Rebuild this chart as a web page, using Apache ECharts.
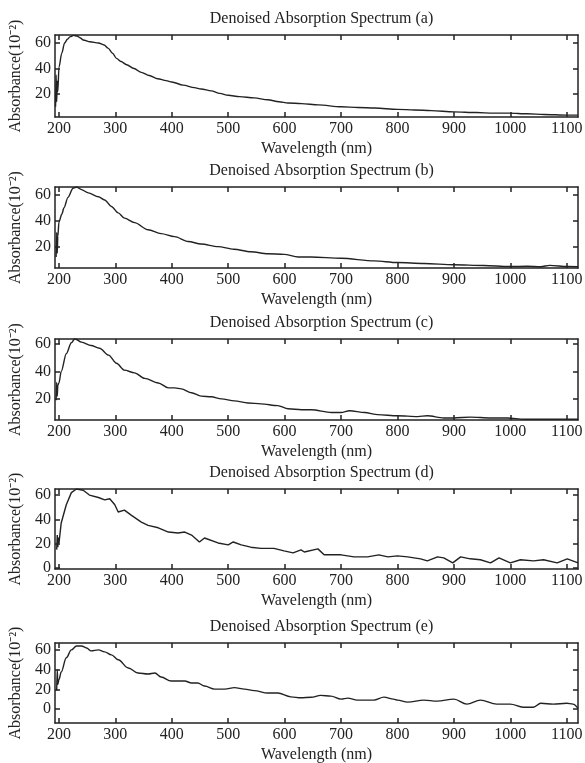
<!DOCTYPE html>
<html>
<head>
<meta charset="utf-8">
<script src="https://cdn.jsdelivr.net/npm/echarts@6.0.0/dist/echarts.min.js"></script>
<style>
  html, body { margin: 0; padding: 0; background: #fff; }
  #chart { width: 585px; height: 763px; }
</style>
</head>
<body>
<div id="chart"></div>
<script>
// tick labels
const xTicks = [200, 300, 400, 500, 600, 700, 800, 900, 1000, 1100]
const yTicksPos = [20, 40, 60]
const yTicksZero = [0, 20, 40, 60]
const panelNames = ['a', 'b', 'c', 'd', 'e']

// spectrum (a)
const waveA = [194, 195, 196, 197, 198, 200, 205, 210, 215, 220, 226, 232, 238, 243, 255, 270, 280, 287, 295, 302, 310, 320, 333, 346, 360, 375, 390, 400, 420, 440, 452, 470, 485, 500, 520, 546, 570, 590, 606, 630, 660, 700, 730, 760, 800, 830, 860, 900, 940, 970, 998, 1030, 1060, 1100, 1120]
const absA = [10, 35, 14, 30, 22, 41, 52, 60, 63, 65, 66, 65.5, 64, 62.4, 61, 60, 58.5, 56, 52, 48, 45.5, 43, 40, 37, 34.5, 32, 30.5, 29.5, 27, 25, 24, 22.5, 20.5, 19, 18, 17, 15.5, 14, 13, 12.5, 11.5, 10, 9.5, 9, 8, 7.5, 7, 6, 5.5, 5, 5, 4.5, 4, 3.5, 3.5]

// spectrum (b)
const waveB = [195, 196, 197, 198, 200, 205, 209, 216, 225, 231, 240, 252, 270, 281, 293, 305, 316, 334, 358, 381, 405, 429, 452, 482, 510, 540, 570, 599, 624, 647, 700, 759, 800, 847, 900, 953, 998, 1030, 1054, 1070, 1101, 1120]
const absB = [12, 31, 15, 28, 39, 45, 50, 58, 65, 66, 64, 61.5, 58.5, 56, 51, 46, 42, 38.5, 33, 30, 27.7, 24, 22, 20, 18, 16, 14.5, 14, 12, 12, 11, 9, 7.7, 7, 6, 5.4, 4.6, 4.8, 4.5, 5.5, 4.6, 4.5]

// spectrum (c)
const waveC = [195, 196, 197, 198, 200, 204, 213, 222, 228, 240, 257, 272, 288, 302, 316, 334, 352, 376, 394, 405, 417, 435, 452, 470, 488, 511, 535, 558, 588, 606, 630, 647, 683, 700, 715, 742, 765, 800, 836, 853, 882, 900, 929, 965, 995, 1025, 1060, 1120]
const absC = [19, 32, 22, 30, 31.6, 40, 53, 61, 64, 61.5, 59, 57, 52, 46, 41, 39, 35, 31.6, 28, 28, 27.3, 24.4, 22, 21.5, 20, 18.5, 17, 16.3, 15, 12.7, 12, 12, 10, 10, 11.3, 10, 8.4, 7.6, 7, 7.6, 6, 6, 6.6, 6, 6, 5, 5, 5]

// spectrum (d)
const waveD = [196, 197, 198, 199, 200, 204, 213, 222, 231, 243, 254, 270, 281, 290, 299, 305, 316, 328, 346, 358, 376, 394, 411, 423, 435, 449, 458, 482, 500, 509, 523, 540, 558, 581, 599, 615, 629, 635, 659, 670, 700, 723, 747, 767, 783, 800, 818, 841, 853, 871, 882, 898, 912, 929, 947, 965, 980, 1000, 1018, 1041, 1059, 1083, 1101, 1120]
const absD = [15, 27, 17, 25, 20, 37, 52, 62, 65, 64, 60, 58, 56, 57, 52, 46, 47.6, 43.4, 37.7, 35, 33, 29.5, 28.7, 29.5, 27, 21.3, 24.6, 20.5, 18.9, 21.3, 18.9, 17, 16, 16, 14, 12.3, 14.8, 13, 15.6, 10.7, 10.7, 9, 9, 10.7, 9, 9.8, 9, 7.4, 5.7, 9, 8.2, 4.1, 9, 7.4, 6.6, 4.1, 8.2, 4.1, 6.6, 5.7, 6.6, 4.1, 7.4, 4.1]

// spectrum (e)
const waveE = [196, 197, 198, 200, 204, 213, 222, 231, 240, 249, 257, 270, 281, 293, 305, 323, 340, 358, 370, 381, 399, 423, 435, 446, 458, 476, 494, 511, 529, 546, 570, 588, 611, 629, 647, 664, 682, 700, 712, 729, 758, 776, 793, 800, 818, 847, 870, 900, 923, 947, 976, 1000, 1023, 1041, 1054, 1076, 1100, 1111, 1120]
const absE = [19, 40, 25, 30, 37.6, 52, 60, 64, 64, 62, 59, 60, 58, 55, 50, 41.7, 36.6, 35.6, 36.6, 32.5, 28.5, 28.5, 26.5, 26.5, 23.4, 20.3, 20.3, 21.8, 20.3, 18.8, 16.3, 16.3, 12.5, 11.5, 12, 14, 13.2, 10.2, 11.2, 9.2, 9.2, 12.2, 10.2, 9.2, 7.1, 9.2, 8.1, 10.2, 5.1, 9.2, 5.1, 5.1, 2, 2, 6, 5.1, 6, 5.1, 1]

const waves = [waveA, waveB, waveC, waveD, waveE]
const absorb = [absA, absB, absC, absD, absE]

// panel layout
const gridTops = [35, 187, 339, 489, 643]
const gridHeights = [82, 81, 81, 80, 80]
const yMins = [2, 3.5, 4.5, -1, -14]
const yMaxs = [66.3, 66, 63.8, 65, 67]
const yTickSets = [yTicksPos, yTicksPos, yTicksPos, yTicksZero, yTicksZero]
const smoothness = [0.3, 0.3, 0.3, 0, 0.35]
const xMin = 193
const xMax = 1120
const boxLeft = 55
const boxWidth = 523

const font = 'Liberation Serif'
const ink = '#222'

const chart = echarts.init(document.getElementById('chart'))

const grids = []
const xAxes = []
const yAxes = []
const series = []
const titles = []

const lineStyle = { color: ink, width: 1.5 }

panelNames.forEach((p, i) => {
    grids.push({
        left: boxLeft,
        top: gridTops[i],
        width: boxWidth,
        height: gridHeights[i],
        containLabel: false,
        outerBoundsMode: 'none'
    })
    titles.push({
        text: `Denoised Absorption Spectrum (${p})`,
        left: boxLeft + boxWidth / 2,
        top: gridTops[i] - 29,
        textAlign: 'center',
        textStyle: { fontFamily: font, fontSize: 16, fontWeight: 'normal', color: ink }
    })
    // bottom x axis
    xAxes.push({
        type: 'value',
        gridIndex: i,
        min: xMin,
        max: xMax,
        position: 'bottom',
        name: 'Wavelength (nm)',
        nameLocation: 'middle',
        nameGap: 24,
        nameTextStyle: { fontFamily: font, fontSize: 16, color: ink },
        axisLine: { onZero: false, lineStyle },
        axisTick: { inside: true, length: 5, lineStyle, customValues: xTicks },
        axisLabel: { fontFamily: font, fontSize: 16, color: ink, margin: 4, customValues: xTicks, formatter: v => String(v) },
        splitLine: { show: false }
    })
    // top mirror x axis
    xAxes.push({
        type: 'value',
        gridIndex: i,
        min: xMin,
        max: xMax,
        position: 'top',
        axisLine: { onZero: false, lineStyle },
        axisTick: { inside: true, length: 5, lineStyle, customValues: xTicks },
        axisLabel: { show: false },
        splitLine: { show: false }
    })
    // left y axis
    yAxes.push({
        type: 'value',
        gridIndex: i,
        min: yMins[i],
        max: yMaxs[i],
        position: 'left',
        name: 'Absorbance(10⁻²)',
        nameLocation: 'middle',
        nameGap: 28,
        nameTextStyle: { fontFamily: font, fontSize: 16, color: ink },
        axisLine: { onZero: false, lineStyle },
        axisTick: { inside: true, length: 5, lineStyle, customValues: yTickSets[i] },
        axisLabel: { fontFamily: font, fontSize: 16, color: ink, margin: 4, customValues: yTickSets[i], formatter: v => String(v) },
        splitLine: { show: false }
    })
    // right mirror y axis
    yAxes.push({
        type: 'value',
        gridIndex: i,
        min: yMins[i],
        max: yMaxs[i],
        position: 'right',
        axisLine: { onZero: false, lineStyle },
        axisTick: { inside: true, length: 5, lineStyle, customValues: yTickSets[i] },
        axisLabel: { show: false },
        splitLine: { show: false }
    })
    series.push({
        type: 'line',
        xAxisIndex: i * 2,
        yAxisIndex: i * 2,
        data: waves[i].map((w, k) => [w, absorb[i][k]]),
        showSymbol: false,
        smooth: smoothness[i],
        smoothMonotone: 'x',
        lineStyle: { color: ink, width: 1.4 },
        clip: true,
        silent: true
    })
})

chart.setOption({
    animation: false,
    backgroundColor: '#fff',
    title: titles,
    grid: grids,
    xAxis: xAxes,
    yAxis: yAxes,
    series: series
})
</script>
</body>
</html>
